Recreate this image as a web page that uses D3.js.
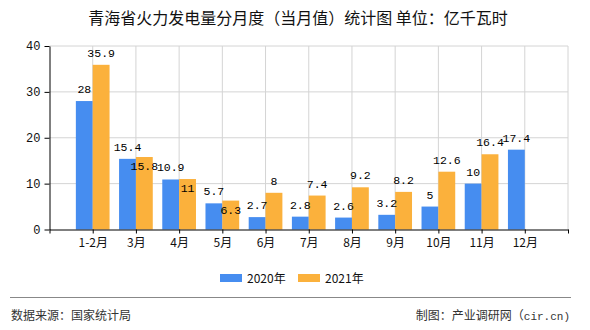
<!DOCTYPE html>
<html>
<head>
<meta charset="utf-8">
<script src="https://cdn.jsdelivr.net/npm/d3@7"></script>
<style>
  body { margin: 0; background: #fff; }
  svg { display: block; }
  .cjk { font-family: "Noto Sans CJK SC", sans-serif; }
  .num { font-family: "Liberation Mono", "DejaVu Sans Mono", monospace; }
</style>
</head>
<body>
<div id="chart"></div>
<script>
var months = ['1-2月', '3月', '4月', '5月', '6月', '7月', '8月', '9月', '10月', '11月', '12月'];
var v2020 = [28, 15.4, 10.9, 5.7, 2.7, 2.8, 2.6, 3.2, 5, 10, 17.4];
var v2021 = [35.9, 15.8, 11, 6.3, 8, 7.4, 9.2, 8.2, 12.6, 16.4, null];
var seriesNames = ['2020年', '2021年'];
var colors = ['#468df0', '#fbb13c'];
var yTicks = [0, 10, 20, 30, 40];

var W = 590, H = 330;
var margin = {top: 46, right: 22, bottom: 100.5, left: 49.5};
var width = W - margin.left - margin.right,
    height = H - margin.top - margin.bottom;

var svg = d3.select('#chart').append('svg')
    .attr('width', W)
    .attr('height', H);

// titre
svg.append('text')
    .attr('class', 'cjk')
    .attr('x', 298)
    .attr('y', 24)
    .attr('text-anchor', 'middle')
    .style('font-size', '16px')
    .attr('fill', '#111')
    .text('青海省火力发电量分月度（当月值）统计图 单位：亿千瓦时');

var g = svg.append('g')
    .attr('transform', 'translate(' + margin.left + ',' + margin.top + ')');

var x = d3.scaleLinear()
    .domain([0, months.length + 1])
    .range([0, width]);

var y = d3.scaleLinear()
    .domain([0, 40])
    .range([height, 0]);

var step = x(1) - x(0);
var bw = step * 0.39;

// grille
g.selectAll('.hgrid')
    .data(yTicks.slice(1))
  .enter().append('line')
    .attr('x1', 0).attr('x2', width)
    .attr('y1', function(d) { return y(d); })
    .attr('y2', function(d) { return y(d); })
    .attr('stroke', '#d4d4d4');

g.selectAll('.vgrid')
    .data(d3.range(1, months.length + 2))
  .enter().append('line')
    .attr('x1', function(d) { return x(d); })
    .attr('x2', function(d) { return x(d); })
    .attr('y1', 0).attr('y2', height)
    .attr('stroke', '#d4d4d4');

// barres
var series = [v2020, v2021];
series.forEach(function(vals, s) {
  g.selectAll('.bar' + s)
      .data(vals.map(function(v, i) { return {v: v, i: i}; }).filter(function(d) { return d.v != null; }))
    .enter().append('rect')
      .attr('x', function(d) { return x(d.i + 1) - (s == 0 ? bw : 0); })
      .attr('y', function(d) { return y(d.v); })
      .attr('width', bw)
      .attr('height', function(d) { return height - y(d.v); })
      .attr('fill', colors[s]);
});

// axes
var xAxis = d3.axisBottom(x)
    .tickValues(d3.range(0, months.length + 2))
    .tickFormat(function(i) { return months[i - 1] || ''; })
    .tickSize(4)
    .tickSizeOuter(0);

var xg = g.append('g')
    .attr('transform', 'translate(0,' + height + ')')
    .call(xAxis);
xg.select('.domain').attr('stroke', '#000');
xg.selectAll('text')
    .attr('class', 'cjk')
    .style('font-size', '12px')
    .attr('fill', '#111')
    .attr('dy', '0.9em');

var yAxis = d3.axisLeft(y)
    .tickValues(yTicks)
    .tickSize(5)
    .tickSizeOuter(0);

var yg = g.append('g').call(yAxis);
yg.select('.domain').attr('stroke', '#000');
yg.selectAll('text')
    .attr('class', 'num')
    .style('font-size', '12px')
    .attr('fill', '#111')
    .attr('x', -9);

// étiquettes
var lab0 = g.selectAll('.lab0')
    .data(v2020.map(function(v, i) { return {v: v, i: i}; }))
  .enter().append('text')
    .attr('class', 'num')
    .style('font-size', '11.5px')
    .attr('text-anchor', 'middle')
    .attr('x', function(d) { return x(d.i + 1) - bw / 2; })
    .attr('y', function(d) { return y(d.v) - 8; })
    .text(function(d) { return d.v; });

var boxes = [];
lab0.each(function(d) { boxes[d.i] = this.getBBox(); });

g.selectAll('.lab1')
    .data(v2021.map(function(v, i) { return {v: v, i: i}; }).filter(function(d) { return d.v != null; }))
  .enter().append('text')
    .attr('class', 'num')
    .style('font-size', '11.5px')
    .attr('text-anchor', 'middle')
    .attr('x', function(d) { return x(d.i + 1) + bw / 2; })
    .attr('y', function(d) { return y(d.v) - 8; })
    .text(function(d) { return d.v; })
    .each(function(d) {
      // si ça chevauche l'étiquette bleue, on descend dans la barre
      var a = this.getBBox(), b = boxes[d.i];
      if (b && a.x < b.x + b.width && b.x < a.x + a.width && a.y < b.y + b.height && b.y < a.y + a.height) {
        d3.select(this).attr('y', y(d.v) + 13);
      }
    });

// légende
var legend = svg.selectAll('.legend')
    .data(seriesNames)
  .enter().append('g')
    .attr('transform', function(d, i) { return 'translate(' + (220 + i * 78) + ',274)'; });

legend.append('rect')
    .attr('width', 22)
    .attr('height', 8)
    .attr('fill', function(d, i) { return colors[i]; });

legend.append('text')
    .attr('class', 'cjk')
    .attr('x', 27)
    .attr('y', 8.5)
    .style('font-size', '12px')
    .attr('fill', '#111')
    .text(function(d) { return d; });

// pied
svg.append('line')
    .attr('x1', 10).attr('x2', 571)
    .attr('y1', 297.5).attr('y2', 297.5)
    .attr('stroke', '#888');

svg.append('text')
    .attr('class', 'cjk')
    .attr('x', 11)
    .attr('y', 320)
    .style('font-size', '12px')
    .attr('fill', '#333')
    .text('数据来源：国家统计局');

var src = svg.append('text')
    .attr('class', 'cjk')
    .attr('x', 570)
    .attr('y', 320)
    .attr('text-anchor', 'end')
    .style('font-size', '12px')
    .attr('fill', '#333');
src.append('tspan').text('制图：产业调研网（');
src.append('tspan').attr('class', 'num').style('font-size', '11px').text('cir.cn)');
</script>
</body>
</html>
